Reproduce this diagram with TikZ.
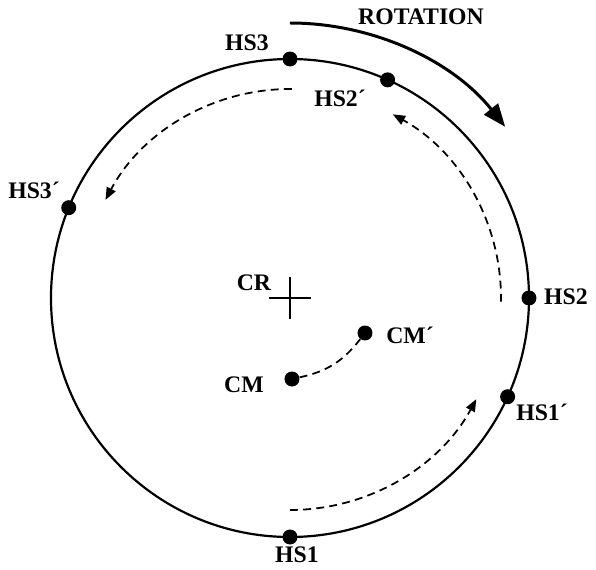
\documentclass[tikz,border=0pt]{standalone}
\usepackage{fontspec}
\setmainfont{Liberation Serif}
\usepackage{tikz}
\usetikzlibrary{arrows.meta,positioning}
\tikzset{
  dot/.style={circle,fill=black,inner sep=0pt,minimum size=0.3cm},
  lbl/.style={font=\fontsize{13.5}{15}\selectfont\bfseries,inner sep=0pt},
  rim/.style={line width=1.25pt},
  dasharrow/.style={line width=1pt,dash pattern=on 4.5pt off 3pt,
    -{Triangle[length=7pt,width=5.5pt]}},
  dashline/.style={line width=1pt,dash pattern=on 4.5pt off 3pt},
  rotarrow/.style={line width=1.7pt,-{Triangle[length=13pt,width=10pt]}}
}
\begin{document}
\begin{tikzpicture}[x=0.02cm,y=0.02cm]
  \useasboundingbox (-290,-271) rectangle (306,298);
  \coordinate (cr) at (0,0);
  \draw[rim] (cr) circle[radius=239];
  \draw[line width=1.2pt] (cr) +(-21,0) -- +(21,0) (cr) +(0,-21) -- +(0,21);
  \node[dot] (hs3) at (90:239) {};
  \node[dot] (hs2p) at (65.9:239) {};
  \node[dot] (hs3p) at (157.8:239) {};
  \node[dot] (hs2) at (0:239) {};
  \node[dot] (hs1p) at (-24.4:239) {};
  \node[dot] (hs1) at (-90:239) {};
  \node[dot] (cm) at (2,-81) {};
  \node[dot] (cmp) at (75,-35) {};
  \node[lbl] (rotlbl) at (131,281) {ROTATION};
  \node[lbl] (hs3lbl) at (-43,255) {HS3};
  \node[lbl] (hs2plbl) at (50,200) {HS2´};
  \node[lbl] (hs3plbl) at (-256,108) {HS3´};
  \node[lbl] (hs2lbl) at (276,1) {HS2};
  \node[lbl] (crlbl) at (-36,15) {CR};
  \node[lbl] (cmplbl) at (120,-37) {CM´};
  \node[lbl] (cmlbl) at (-46,-87) {CM};
  \node[lbl] (hs1plbl) at (252,-114) {HS1´};
  \node[lbl] (hs1lbl) at (7,-257) {HS1};
  \coordinate (rots) at (90:275);
  \coordinate (d3s) at (89.5:209);
  \coordinate (d2s) at (-1:211);
  \coordinate (d1s) at (-90:212);
  \draw[rotarrow] (rots) arc[start angle=90,end angle=38.5,radius=275];
  \draw[dasharrow] (d3s) arc[start angle=89.5,end angle=152,radius=209];
  \draw[dasharrow] (d2s) arc[start angle=-1,end angle=61,radius=210];
  \draw[dasharrow] (d1s) arc[start angle=-90,end angle=-28.5,radius=212];
  \draw[dashline] (cm) to[bend right=20] (cmp);
\end{tikzpicture}
\end{document}
